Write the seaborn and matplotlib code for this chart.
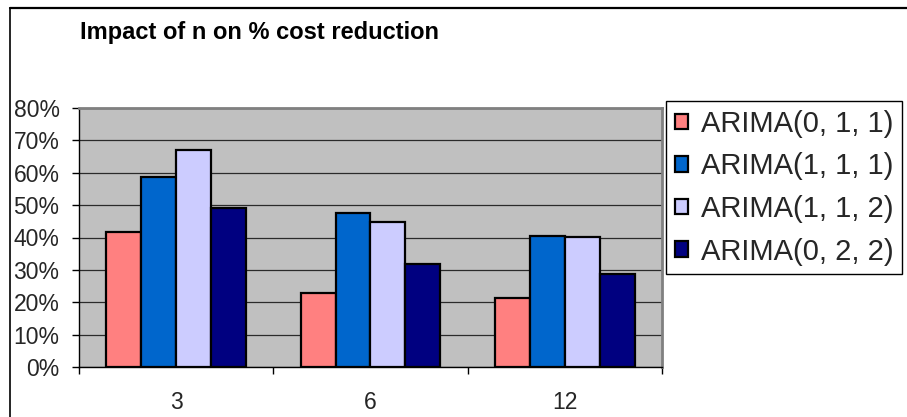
import matplotlib
matplotlib.use("Agg")
import matplotlib.pyplot as plt
from matplotlib.patches import Patch
from matplotlib.lines import Line2D
from matplotlib.ticker import FixedLocator, PercentFormatter
import seaborn as sns
import pandas as pd

# Forecast horizon n (categories) and % cost reduction per model
horizons = ["3", "6", "12"]
models = ["ARIMA(0, 1, 1)", "ARIMA(1, 1, 1)", "ARIMA(1, 1, 2)", "ARIMA(0, 2, 2)"]
arima_011 = [41.6, 23.0, 21.2]
arima_111 = [58.6, 47.5, 40.4]
arima_112 = [67.1, 44.8, 40.1]
arima_022 = [49.1, 31.7, 28.6]
colors = ["#FF8080", "#0066CC", "#CCCCFF", "#000080"]
y_ticks = [0, 10, 20, 30, 40, 50, 60, 70, 80]
title = "Impact of n on % cost reduction"

series = [arima_011, arima_111, arima_112, arima_022]
rows = []
for model, values in zip(models, series):
    for h, v in zip(horizons, values):
        rows.append({"n": h, "model": model, "reduction": v})
df = pd.DataFrame(rows)

sns.set_theme(style="white")
plt.rcParams["font.family"] = ["Liberation Sans", "DejaVu Sans"]

W, H = 907, 417
fig = plt.figure(figsize=(W / 100, H / 100), dpi=100)
ax = fig.add_axes([79 / W, 1 - 367 / H, (662 - 79) / W, (367 - 108) / H])
ax.set_facecolor("#C0C0C0")

sns.barplot(data=df, x="n", y="reduction", hue="model", order=horizons,
            hue_order=models, palette=colors, saturation=1, width=0.72,
            edgecolor="black", linewidth=1.6, legend=False, ax=ax, zorder=3)

ax.set_xlim(-0.5, len(horizons) - 0.5)
ax.set_ylim(0, 80)
ax.set_yticks(y_ticks)
ax.yaxis.set_major_formatter(PercentFormatter(decimals=0))
ax.yaxis.grid(True, color="#2a2a2a", linewidth=0.9, zorder=1)
ax.set_axisbelow(True)

# category boundaries carry the tick marks, centres carry the labels
ax.xaxis.set_major_locator(FixedLocator([i - 0.5 for i in range(len(horizons) + 1)]))
ax.xaxis.set_minor_locator(FixedLocator(list(range(len(horizons)))))
ax.set_xticklabels([""] * (len(horizons) + 1))
ax.set_xticklabels(horizons, minor=True)
ax.tick_params(axis="x", which="major", direction="out", length=5, width=1,
               color="black", bottom=True)
ax.tick_params(axis="x", which="minor", length=0, pad=17, labelsize=16.5)
ax.tick_params(axis="y", direction="out", length=5, width=1, color="black",
               left=True, pad=9, labelsize=16.5)
ax.set_xlabel("")
ax.set_ylabel("")

for side in ("left", "bottom"):
    ax.spines[side].set_color("black")
    ax.spines[side].set_linewidth(1)
for side in ("top", "right"):
    ax.spines[side].set_color("#808080")
    ax.spines[side].set_linewidth(2)

handles = [Patch(facecolor=c, edgecolor="black", linewidth=1.6) for c in colors]
fig.legend(handles, models, loc="upper left", bbox_to_anchor=(666 / W, 1 - 101 / H),
           bbox_transform=fig.transFigure, borderaxespad=0, fontsize=21,
           frameon=True, fancybox=False, edgecolor="black", framealpha=1,
           handlelength=0.45, handleheight=0.45, handletextpad=0.45,
           labelspacing=0.5, borderpad=0.3)

fig.text(80 / W, 1 - 32 / H, title, ha="left", va="center",
         fontsize=17, fontweight="bold", color="black")

# outer chart frame (left and top edges)
fig.add_artist(Line2D([10 / W, 10 / W], [0, 1 - 8 / H], transform=fig.transFigure,
                      color="black", linewidth=1.2))
fig.add_artist(Line2D([10 / W, 1], [1 - 8 / H, 1 - 8 / H], transform=fig.transFigure,
                      color="black", linewidth=1.6))

fig.savefig("out.png", dpi=100)
